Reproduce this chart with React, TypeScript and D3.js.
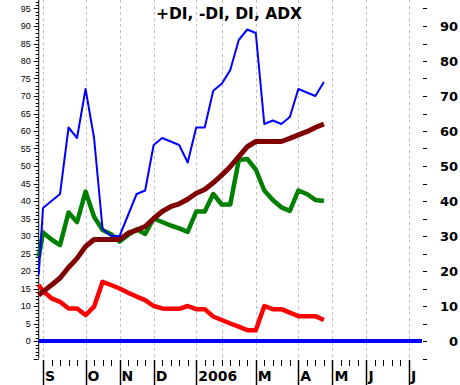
import React, { useEffect, useRef } from "react";
import * as d3 from "d3";

// week index from first September bar (the leading -0.5 is the partial week at the axis)
const weeks = [-0.5, 0, 1, 2, 3, 4, 5, 6, 7, 8, 9, 10, 11, 12, 13, 14, 15, 16, 17, 18, 19, 20, 21, 22, 23, 24, 25, 26, 27, 28, 29, 30, 31, 32, 33];
const plusDI = [19, 38, 40, 42, 61, 58, 72, 58, 32, 30, 30, 36, 42, 43, 56, 58, 57, 56, 51, 61, 61, 71.5, 73.5, 77.4, 86, 89, 88, 62, 63, 62, 64, 72, 71, 70, 74];
const minusDI = [16, 14.3, 12.2, 11.2, 9.3, 9.3, 7.4, 9.8, 16.9, 16, 15, 13.8, 12.7, 11.7, 10, 9.3, 9.2, 9.2, 10, 9.1, 9.1, 7, 6, 5, 4.1, 3.1, 3.1, 10, 9.1, 9.1, 8.1, 7.1, 7.1, 7.1, 6];
const di = [24, 31, 29, 27.4, 36.7, 34, 42.7, 35.5, 31.7, 30.5, 28.4, 30.3, 31.9, 30.6, 35, 34, 33, 32.2, 31.2, 37, 37, 42, 39, 39, 51.7, 52, 49, 43, 40.3, 38.2, 37.2, 43, 42, 40.3, 40];
const adx = [13.1, 14.1, 16, 18, 21, 23.6, 27, 29, 29, 29, 29, 30.8, 31.7, 32.7, 35, 37, 38.4, 39.2, 40.5, 42.2, 43.3, 45.2, 47.4, 49.8, 52.7, 55.5, 57, 57, 57, 57, 57.9, 58.9, 59.8, 61, 62];

const monthWeeks = [0, 5, 9, 13, 18, 21, 25, 30, 34, 38, 43];
const monthLabels = ["S", "O", "N", "D", "2006", "", "M", "A", "M", "J", "J"];
const allWeeks = [0, 1, 2, 3, 4, 5, 6, 7, 8, 9, 10, 11, 12, 13, 14, 15, 16, 17, 18, 19, 20, 21, 22, 23, 24, 25, 26, 27, 28, 29, 30, 31, 32, 33, 34, 35, 36, 37, 38, 39, 40, 41, 42, 43];

const title = "+DI, -DI, DI, ADX";

export default function App() {
  const ref = useRef<SVGSVGElement>(null);

  useEffect(() => {
    const svg = d3.select(ref.current);
    svg.selectAll("*").remove();

    const x = d3.scaleLinear().domain([0, 43]).range([43, 409]);
    const y = d3.scaleLinear().domain([0, 90]).range([341, 26]);
    const left = x(-0.5);
    const right = 422;
    const bottom = y(-5);
    const boldFont = "DejaVu Sans, Verdana, sans-serif";

    // dashed month gridlines
    svg.append("g")
      .selectAll("line")
      .data(monthWeeks)
      .join("line")
      .attr("x1", d => Math.round(x(d)) + 0.5)
      .attr("x2", d => Math.round(x(d)) + 0.5)
      .attr("y1", 0)
      .attr("y2", bottom)
      .attr("stroke", "#c0c0c0")
      .attr("stroke-dasharray", "3,3");

    // left axis
    const la = svg.append("g");
    la.append("line")
      .attr("x1", left).attr("x2", left)
      .attr("y1", 0).attr("y2", bottom)
      .attr("stroke", "#000");
    la.selectAll(".minor")
      .data(d3.range(-5, 98))
      .join("line")
      .attr("x1", d => (d % 5 === 0 ? left - 5 : left - 3))
      .attr("x2", left)
      .attr("y1", d => Math.round(y(d)) + 0.5)
      .attr("y2", d => Math.round(y(d)) + 0.5)
      .attr("stroke", "#000");
    la.selectAll("text")
      .data(d3.range(0, 100, 5))
      .join("text")
      .attr("x", left - 8)
      .attr("y", d => y(d) + 3)
      .attr("text-anchor", "end")
      .style("font-family", "Liberation Sans, Arial, sans-serif")
      .style("font-size", "9px")
      .text(d => d);

    // right axis
    const ra = svg.append("g");
    ra.selectAll("line")
      .data(d3.range(-5, 100, 5))
      .join("line")
      .attr("x1", 423).attr("x2", 427)
      .attr("y1", d => Math.round(y(d)) + 0.5)
      .attr("y2", d => Math.round(y(d)) + 0.5)
      .attr("stroke", "#000");
    ra.selectAll("text")
      .data(d3.range(0, 100, 10))
      .join("text")
      .attr("x", 458)
      .attr("y", d => y(d) + 5)
      .attr("text-anchor", "end")
      .style("font-family", boldFont)
      .style("font-weight", "bold")
      .style("font-size", "13px")
      .text(d => d);

    // bottom axis: weekly ticks, month separators and labels
    const ba = svg.append("g");
    ba.selectAll(".wk")
      .data(allWeeks.filter(w => !monthWeeks.includes(w) || monthLabels[monthWeeks.indexOf(w)] === ""))
      .join("line")
      .attr("x1", d => Math.round(x(d)) + 0.5)
      .attr("x2", d => Math.round(x(d)) + 0.5)
      .attr("y1", 360).attr("y2", 366)
      .attr("stroke", "#000");
    const months = monthWeeks.map((w, i) => ({ w, label: monthLabels[i] })).filter(m => m.label !== "");
    ba.selectAll(".sep")
      .data(months)
      .join("line")
      .attr("x1", d => Math.round(x(d.w)) + 0.5)
      .attr("x2", d => Math.round(x(d.w)) + 0.5)
      .attr("y1", 360).attr("y2", 385)
      .attr("stroke", "#000")
      .attr("stroke-width", 1.5);
    ba.selectAll("text")
      .data(months)
      .join("text")
      .attr("x", d => x(d.w) + 2)
      .attr("y", 381)
      .style("font-family", boldFont)
      .style("font-weight", "bold")
      .style("font-size", "14px")
      .text(d => d.label);

    // zero line
    svg.append("line")
      .attr("x1", left).attr("x2", right)
      .attr("y1", y(0)).attr("y2", y(0))
      .attr("stroke", "#0000ff")
      .attr("stroke-width", 4);

    const line = d3.line<number>()
      .x((_, i) => x(weeks[i]))
      .y(d => y(d));

    const series = [
      { values: di, color: "#008000", width: 4.5 },
      { values: minusDI, color: "#ff0000", width: 4.5 },
      { values: adx, color: "#800000", width: 5 },
      { values: plusDI, color: "#0000ff", width: 2 },
    ];
    svg.append("g")
      .selectAll("path")
      .data(series)
      .join("path")
      .attr("d", d => line(d.values))
      .attr("fill", "none")
      .attr("stroke", d => d.color)
      .attr("stroke-width", d => d.width)
      .attr("stroke-linejoin", "round");

    svg.append("text")
      .attr("x", 229)
      .attr("y", 19)
      .attr("text-anchor", "middle")
      .style("font-family", boldFont)
      .style("font-weight", "bold")
      .style("font-size", "15.5px")
      .text(title);
  }, []);

  return (
    <svg
      ref={ref}
      width={460}
      height={385}
      style={{ position: "absolute", left: 0, top: 0, background: "#fff" }}
    />
  );
}
